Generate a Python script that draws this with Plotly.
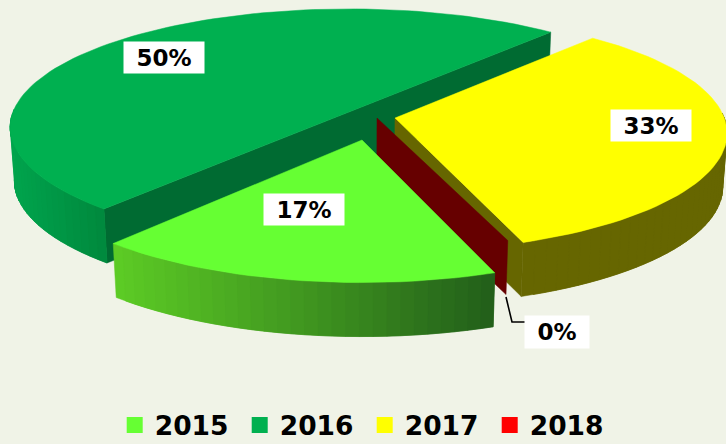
import math
import plotly.graph_objects as go

years = ["2015", "2016", "2017", "2018"]
values = [17, 50, 33, 0]
top_colors = ["#66FF33", "#00B050", "#FFFF00", "#FF0000"]
cut_colors = ["#2A6A1C", "#006B32", "#666600", "#660000"]
wall_left = ["#5CCB25", "#00A44D", "#666600", "#660000"]
wall_right = ["#23601A", "#008A3E", "#666600", "#660000"]
apex_x = [362, 349, 395, 377]
apex_y = [140, 112, 118, 118]
scale_x = [1.015, 1.0, 0.98, 1.0]
scale_y = [1.035, 0.97, 0.97, 0.955]
label_x = [304, 164, 651, 557]
label_y = [209.5, 57.5, 125.5, 332]
label_w = [78, 78, 78, 62]
label_h = [29, 29, 29, 30]
leader_x = [506, 512, 525]
leader_y = [297, 322, 322]

BG = "#F0F3E7"
RX, RY, K, DEPTH, START = 336, 120, 0.129, 54, -70


def project(i, t):
    u, v = math.cos(math.radians(t)), math.sin(math.radians(t))
    w = 1 + K * v
    return apex_x[i] + scale_x[i] * RX * u / w, apex_y[i] - scale_y[i] * RY * v / w


def down(p):
    return p[0] - (p[0] - 363) * 0.012, p[1] + DEPTH


def mix(a, b, f):
    ca = [int(a[j:j + 2], 16) for j in (1, 3, 5)]
    cb = [int(b[j:j + 2], 16) for j in (1, 3, 5)]
    return "#%02X%02X%02X" % tuple(round(x + (y - x) * f) for x, y in zip(ca, cb))


fig = go.Figure()


def poly(points, color):
    xs = [p[0] for p in points] + [points[0][0]]
    ys = [p[1] for p in points] + [points[0][1]]
    fig.add_trace(go.Scatter(x=xs, y=ys, mode="lines", fill="toself", fillcolor=color,
                             line=dict(color=color, width=0.5), hoverinfo="skip",
                             showlegend=False))


# clockwise sweep from START through the cumulative shares
spans = []
angle = START
for v in values:
    sweep = 360 * v / sum(values)
    spans.append((angle - sweep, angle))
    angle -= sweep


def draw_slice(i):
    lo, hi = spans[i]
    apex = (apex_x[i], apex_y[i])
    n = max(2, int((hi - lo) / 2))
    ts = [lo + (hi - lo) * k / n for k in range(n + 1)]
    arc = [project(i, t) for t in ts]
    # cut faces that can be seen
    if values[i] == 50:
        a, b = project(i, lo), project(i, hi)
        poly([a, b, down(b), down(a)], cut_colors[i])
    elif i in (2, 3):
        e = project(i, lo)
        poly([apex, e, down(e), down(apex)], cut_colors[i])
    vis = [k for k in range(n) if math.sin(math.radians(ts[k])) < 0.02 or math.sin(math.radians(ts[k + 1])) < 0.02]
    if vis and values[i] > 0:
        xs = [arc[k][0] for k in vis]
        x0, x1 = min(xs), max(xs)
        order = sorted(vis, key=lambda k: arc[k][0])
        for pos, k in enumerate(order):
            f = (arc[k][0] - x0) / max(1, x1 - x0)
            nxt = order[min(pos + 1, len(order) - 1)]
            band = arc[min(k, nxt):max(k, nxt) + 2]
            poly(band + [down(p) for p in reversed(band)], mix(wall_left[i], wall_right[i], f))
    if values[i] > 0:
        poly([apex] + arc, top_colors[i])


# 2016 sits behind everything, 2015 in front
draw_slice(1)
draw_slice(2)
draw_slice(3)
draw_slice(0)

fig.add_trace(go.Scatter(x=leader_x, y=leader_y, mode="lines", line=dict(color="#000000", width=1.6),
                         hoverinfo="skip", showlegend=False))

for i, y in enumerate(years):
    fig.add_trace(go.Scatter(x=[None], y=[None], mode="markers", name=y,
                             marker=dict(symbol="square", size=16, color=top_colors[i])))

for i, v in enumerate(values):
    fig.add_annotation(x=label_x[i], y=label_y[i], text=f"<b>{v}%</b>", showarrow=False,
                       width=label_w[i], height=label_h[i], bgcolor="#FFFFFF", align="center",
                       font=dict(family="DejaVu Sans", size=23, color="#000000"))

fig.update_layout(
    width=726, height=444, margin=dict(l=0, r=0, t=0, b=0, autoexpand=False),
    paper_bgcolor=BG, plot_bgcolor=BG,
    xaxis=dict(range=[0, 726], visible=False, fixedrange=True),
    yaxis=dict(range=[444, 0], visible=False, fixedrange=True),
    legend=dict(orientation="h", x=0.158, xanchor="left", y=-0.012, yanchor="bottom",
                entrywidth=80, entrywidthmode="pixels",
                font=dict(family="DejaVu Sans", size=26.5, color="#000000", weight="bold"),
                bgcolor="rgba(0,0,0,0)", itemsizing="trace"),
)
fig.write_html("out.html", post_script="document.body.style.margin='0';document.body.style.background='%s';" % BG,
               config={"displayModeBar": False})
